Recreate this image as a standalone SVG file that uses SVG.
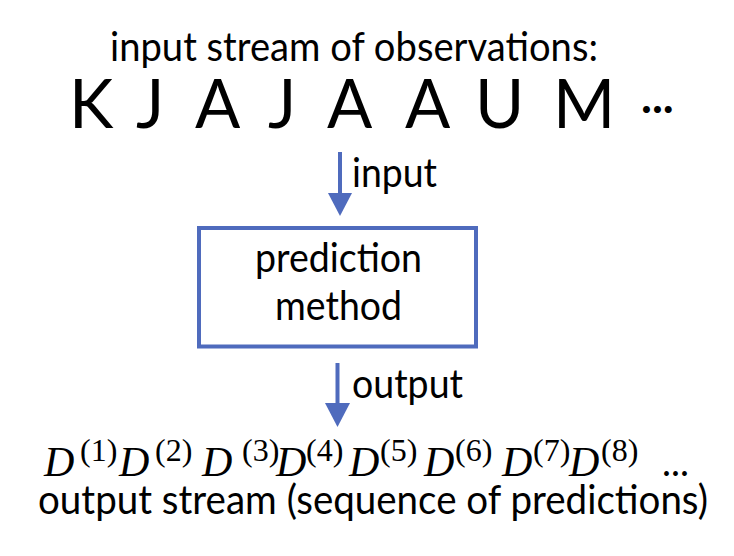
<svg xmlns="http://www.w3.org/2000/svg" width="734" height="556" viewBox="0 0 734 556">
<style>
.t{font-family:Lato,"Open Sans","Liberation Sans",sans-serif;fill:#000;}
.big{font-family:Lato,"Open Sans","Liberation Sans",sans-serif;font-size:67px;fill:#000;}
.d{font-family:"Liberation Serif","DejaVu Serif",serif;font-style:italic;font-size:42px;fill:#000;}
.s{font-family:"Liberation Serif","DejaVu Serif",serif;font-style:normal;font-size:32px;}
.ar{stroke:#4f6bbd;stroke-width:4;fill:none;}
.ah{fill:#4f6bbd;}
</style>
<rect width="734" height="556" fill="#fff"/>
<g id="input-stream">
<text class="t" x="110" y="61" font-size="40" textLength="488" lengthAdjust="spacingAndGlyphs">input stream of observations:</text>
<text class="big" x="69" y="128">K</text>
<text class="big" x="136" y="128">J</text>
<text class="big" x="195" y="128">A</text>
<text class="big" x="268" y="128">J</text>
<text class="big" x="327" y="128">A</text>
<text class="big" x="405" y="128">A</text>
<text class="big" x="475" y="128">U</text>
<text class="big" x="553" y="128">M</text>
<text class="t" x="641" y="113" font-size="46" font-weight="bold">...</text>
</g>
<g id="prediction-method">
<rect x="199" y="228" width="277" height="118.5" fill="#fff" stroke="#4f6bbd" stroke-width="4"/>
<text class="t" x="338.5" y="272" font-size="40" text-anchor="middle" textLength="167" lengthAdjust="spacingAndGlyphs">prediction</text>
<text class="t" x="338.5" y="320" font-size="40" text-anchor="middle" textLength="127" lengthAdjust="spacingAndGlyphs">method</text>
</g>
<g id="connectors">
<line class="ar" x1="340" y1="152" x2="340" y2="195"/>
<polygon class="ah" points="328,193 352,193 340,216"/>
<text class="t" x="352" y="187" font-size="40" textLength="85" lengthAdjust="spacingAndGlyphs">input</text>
<line class="ar" x1="337.5" y1="363" x2="337.5" y2="405"/>
<polygon class="ah" points="325,403 350,403 337.5,427"/>
<text class="t" x="352" y="398" font-size="40" textLength="111" lengthAdjust="spacingAndGlyphs">output</text>
</g>
<g id="output-stream">
<text class="d"><tspan x="44" y="476">D</tspan><tspan class="s" x="80" y="461">(1)</tspan><tspan x="119" y="476">D</tspan><tspan class="s" x="155" y="461">(2)</tspan><tspan x="202" y="476">D</tspan><tspan class="s" x="242" y="461">(3)</tspan><tspan x="276" y="476">D</tspan><tspan class="s" x="306" y="461">(4)</tspan><tspan x="349" y="476">D</tspan><tspan class="s" x="380" y="461">(5)</tspan><tspan x="424" y="476">D</tspan><tspan class="s" x="455" y="461">(6)</tspan><tspan x="502" y="476">D</tspan><tspan class="s" x="533" y="461">(7)</tspan><tspan x="569" y="476">D</tspan><tspan class="s" x="601" y="461">(8)</tspan></text>
<text class="t" x="662" y="476" font-size="38">...</text>
<text class="t" x="38" y="514" font-size="40" textLength="670" lengthAdjust="spacingAndGlyphs">output stream (sequence of predictions)</text>
</g>
</svg>
